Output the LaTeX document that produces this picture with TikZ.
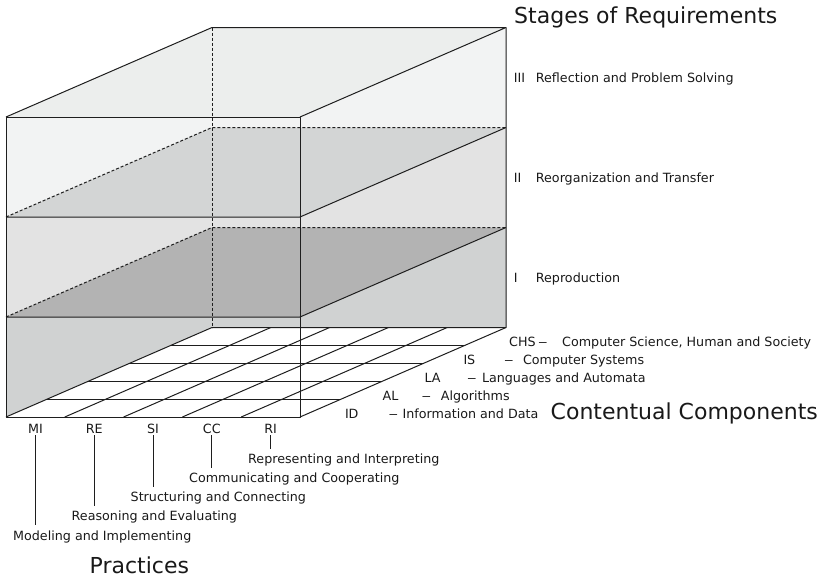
\documentclass[tikz,border=0pt]{standalone}
\usepackage{fontspec}
\setmainfont{DejaVu Sans}
\usepackage{graphicx, tikz}
\usetikzlibrary{calc}
\tikzstyle{every picture}=[->,>=latex]
\definecolor{lidgray}{HTML}{ECEEED}
\definecolor{wallthree}{HTML}{F2F3F3}
\definecolor{floorthree}{HTML}{D3D5D5}
\definecolor{walltwo}{HTML}{E3E3E3}
\definecolor{floortwo}{HTML}{B3B3B3}
\definecolor{wallone}{HTML}{D0D2D2}
\definecolor{linegray}{HTML}{1E1E1E}
\newcommand{\longdash}{\scalebox{1.5}[1]{\textendash}}
\tikzset{
  boxline/.style={-, draw=linegray, line width=1pt, line join=round},
  hiddenline/.style={-, draw=linegray, line width=1pt, dash pattern=on 3pt off 2pt},
  smalltext/.style={font=\fontsize{12.7}{15}\selectfont, text=black!90},
  bigtext/.style={font=\fontsize{22}{26}\selectfont, text=black!90}
}
\begin{document}
\begin{tikzpicture}[x=1pt,y=-1pt]
{
\useasboundingbox (0,0) rectangle (823,579);

% front corners of the four levels
\coordinate(fl0) at (6,117);     \coordinate(fr0) at (300,117);
\coordinate(fl1) at (6,217);     \coordinate(fr1) at (300,217);
\coordinate(fl2) at (6,317);     \coordinate(fr2) at (300,317);
\coordinate(fl3) at (6,417);     \coordinate(fr3) at (300,417);
% back corners
\coordinate(bl0) at (212,27.5);  \coordinate(br0) at (506,27.5);
\coordinate(bl1) at (212,127.5); \coordinate(br1) at (506,127.5);
\coordinate(bl2) at (212,227.5); \coordinate(br2) at (506,227.5);
\coordinate(bl3) at (212,327.5); \coordinate(br3) at (506,327.5);

% stage I
\path[-, fill=wallone] (fl3) -- (fl2) -- (bl2) -- (br2) -- (br3) -- (fr3) -- cycle;
\path[-, fill=white] (fl3) -- (bl3) -- (br3) -- (fr3) -- cycle;
% stage II
\path[-, fill=walltwo] (fl2) -- (fl1) -- (bl1) -- (br1) -- (br2) -- (fr2) -- cycle;
\path[-, fill=floortwo] (fl2) -- (bl2) -- (br2) -- (fr2) -- cycle;
% stage III
\path[-, fill=wallthree] (fl1) -- (fl0) -- (bl0) -- (br0) -- (br1) -- (fr1) -- cycle;
\path[-, fill=floorthree] (fl1) -- (bl1) -- (br1) -- (fr1) -- cycle;
\path[-, fill=lidgray] (fl0) -- (bl0) -- (br0) -- (fr0) -- cycle;

% grid on the floor
\path[boxline] ($(fl3)!0.2!(fr3)$) -- ($(bl3)!0.2!(br3)$);
\path[boxline] ($(fl3)!0.4!(fr3)$) -- ($(bl3)!0.4!(br3)$);
\path[boxline] ($(fl3)!0.6!(fr3)$) -- ($(bl3)!0.6!(br3)$);
\path[boxline] ($(fl3)!0.8!(fr3)$) -- ($(bl3)!0.8!(br3)$);
\path[boxline] ($(fl3)!0.2!(bl3)$) -- ($(fr3)!0.2!(br3)$);
\path[boxline] ($(fl3)!0.4!(bl3)$) -- ($(fr3)!0.4!(br3)$);
\path[boxline] ($(fl3)!0.6!(bl3)$) -- ($(fr3)!0.6!(br3)$);
\path[boxline] ($(fl3)!0.8!(bl3)$) -- ($(fr3)!0.8!(br3)$);

% hidden edges
\path[hiddenline] (bl0) -- (bl3);
\path[hiddenline] (fl1) -- (bl1) -- (br1);
\path[hiddenline] (fl2) -- (bl2) -- (br2);

% visible edges
\path[boxline] (fl0) -- (fr0) -- (fr3) -- (fl3) -- cycle;
\path[boxline] (fl1) -- (fr1) -- (br1);
\path[boxline] (fl2) -- (fr2) -- (br2);
\path[boxline] (fl0) -- (bl0) -- (br0) -- (fr0);
\path[boxline] (br0) -- (br3) -- (fr3);
\path[boxline] (fl3) -- (bl3) -- (br3);

% axis titles
\begin{scope}[every node/.style={bigtext, anchor=base west, inner sep=0pt}]
    \node(stages) at (514,23) {Stages of Requirements};
    \node(contents) at (550.5,419) {Contentual Components};
    \node(practices) at (89.5,573) {Practices};
\end{scope}

\begin{scope}[every node/.style={smalltext, anchor=base west, inner sep=0pt}]
    % stages
    \node(sIII) at (513.7,82) {III};
    \node(tIII) at (535.7,82) {Reflection and Problem Solving};
    \node(sII) at (513.7,182) {II};
    \node(tII) at (535.7,182) {Reorganization and Transfer};
    \node(sI) at (513.7,282) {I};
    \node(tI) at (535.7,282) {Reproduction};
    % contentual components
    \node(CHS) at (509,346.8) {CHS};
    \node(hCHS) at (538,346.8) {\longdash};
    \node(chs) at (562,346.8) {Computer Science, Human and Society};
    \node(IS) at (463.3,364.6) {IS};
    \node(hIS) at (504,364.6) {\longdash};
    \node(is) at (522.8,364.6) {Computer Systems};
    \node(LA) at (424.3,382.4) {LA};
    \node(hLA) at (467,382.4) {\longdash};
    \node(la) at (481.8,382.4) {Languages and Automata};
    \node(AL) at (382.5,400.2) {AL};
    \node(hAL) at (421.5,400.2) {\longdash};
    \node(al) at (440.7,400.2) {Algorithms};
    \node(ID) at (344.8,418) {ID};
    \node(hID) at (388.5,418) {\longdash};
    \node(id) at (402.4,418) {Information and Data};
    % practices
    \node(mi) at (13,540) {Modeling and Implementing};
    \node(re) at (71.5,520.8) {Reasoning and Evaluating};
    \node(si) at (130.5,501.7) {Structuring and Connecting};
    \node(cc) at (189,482.6) {Communicating and Cooperating};
    \node(ri) at (248,463.5) {Representing and Interpreting};
\end{scope}

\begin{scope}[every node/.style={smalltext, anchor=base, inner sep=0pt}]
    \node(MI) at (35.4,433) {MI};
    \node(RE) at (94.2,433) {RE};
    \node(SI) at (153,433) {SI};
    \node(CC) at (211.8,433) {CC};
    \node(RI) at (270.6,433) {RI};
\end{scope}

\path[boxline, shorten <=2pt, shorten >=5pt] (MI.south) -- (MI.south |- mi.north);
\path[boxline, shorten <=2pt, shorten >=5pt] (RE.south) -- (RE.south |- re.north);
\path[boxline, shorten <=2pt, shorten >=5pt] (SI.south) -- (SI.south |- si.north);
\path[boxline, shorten <=2pt, shorten >=5pt] (CC.south) -- (CC.south |- cc.north);
\path[boxline, shorten <=2pt, shorten >=5pt] (RI.south) -- (RI.south |- ri.north);
}
\end{tikzpicture}
\end{document}
